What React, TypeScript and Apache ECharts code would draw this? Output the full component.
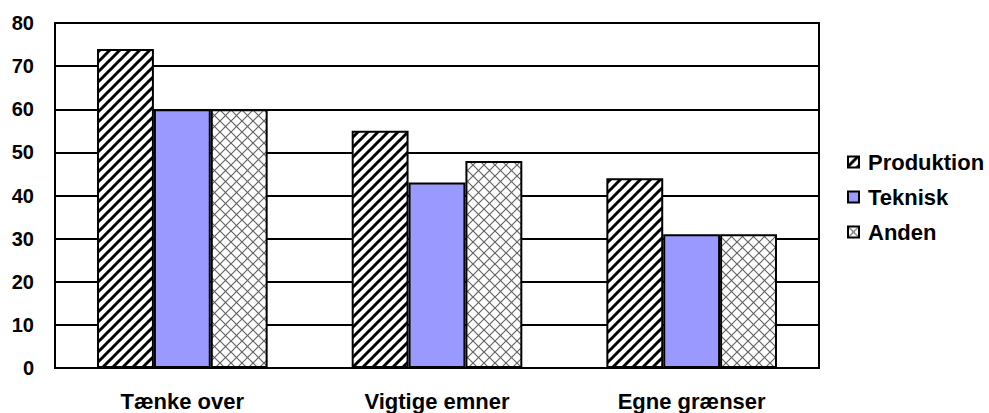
import React, { useEffect, useRef } from "react";
import * as echarts from "echarts";

const categories = ["Tænke over", "Vigtige emner", "Egne grænser"];
const produktion = [74, 55, 44];
const teknisk = [60, 43, 31];
const anden = [60, 48, 31];
const seriesNames = ["Produktion", "Teknisk", "Anden"];

function stripeTile(): HTMLCanvasElement {
  const c = document.createElement("canvas");
  const s = 10;
  c.width = s;
  c.height = s;
  const g = c.getContext("2d")!;
  g.fillStyle = "#fff";
  g.fillRect(0, 0, s, s);
  g.strokeStyle = "#000";
  g.lineWidth = 3;
  g.lineCap = "square";
  for (const o of [-s, 0, s]) {
    g.beginPath();
    g.moveTo(o, s);
    g.lineTo(o + s, 0);
    g.stroke();
  }
  return c;
}

function crossTile(): HTMLCanvasElement {
  const c = document.createElement("canvas");
  const s = 11;
  c.width = s;
  c.height = s;
  const g = c.getContext("2d")!;
  g.fillStyle = "#fff";
  g.fillRect(0, 0, s, s);
  g.strokeStyle = "#666";
  g.lineWidth = 1.2;
  for (const o of [-s, 0, s]) {
    g.beginPath();
    g.moveTo(o, s);
    g.lineTo(o + s, 0);
    g.stroke();
    g.beginPath();
    g.moveTo(o, 0);
    g.lineTo(o + s, s);
    g.stroke();
  }
  return c;
}

export default function App() {
  const ref = useRef<HTMLDivElement>(null);
  useEffect(() => {
    if (!ref.current) return;
    const chart = echarts.init(ref.current, undefined, { renderer: "svg" });
    const stripe = { image: stripeTile(), repeat: "repeat", imageWidth: 10, imageHeight: 10 } as any;
    const cross = { image: crossTile(), repeat: "repeat", imageWidth: 11, imageHeight: 11 } as any;
    const font = "Liberation Sans, Arial, sans-serif";
    const fills = [stripe, "#9999ff", cross];
    const data = [produktion, teknisk, anden];
    chart.setOption({
      animation: false,
      textStyle: { fontFamily: font },
      grid: {
        left: 55,
        right: 170,
        top: 23,
        bottom: 45,
        show: true,
        borderColor: "#000",
        borderWidth: 2,
        backgroundColor: "transparent",
      },
      legend: {
        orient: "vertical",
        left: 847,
        top: 151,
        padding: 0,
        itemWidth: 11,
        itemHeight: 11,
        itemGap: 13,
        icon: "rect",
        textStyle: {
          fontSize: 22,
          fontWeight: "bold",
          color: "#000",
          fontFamily: font,
          padding: [0, 0, 0, 4],
        },
        data: seriesNames,
      },
      xAxis: {
        type: "category",
        data: categories,
        axisLine: { show: true, lineStyle: { color: "#000", width: 2 } },
        axisTick: { show: false },
        axisLabel: {
          margin: 22,
          fontSize: 22,
          fontWeight: "bold",
          color: "#000",
          fontFamily: font,
        },
      },
      yAxis: {
        type: "value",
        min: 0,
        max: 80,
        interval: 10,
        axisLine: { show: true, lineStyle: { color: "#000", width: 2 } },
        axisTick: { show: false },
        splitLine: { show: true, lineStyle: { color: "#000", width: 2 } },
        axisLabel: {
          margin: 21,
          fontSize: 20,
          fontWeight: "bold",
          color: "#000",
          fontFamily: font,
        },
      },
      series: seriesNames.map((name, i) => ({
        name,
        type: "bar",
        data: data[i],
        barGap: "0%",
        barCategoryGap: "33%",
        itemStyle: { color: fills[i], borderColor: "#000", borderWidth: 2 },
      })),
    });
    return () => chart.dispose();
  }, []);
  return <div ref={ref} style={{ width: 989, height: 413, position: "absolute", left: 0, top: 0 }} />;
}
